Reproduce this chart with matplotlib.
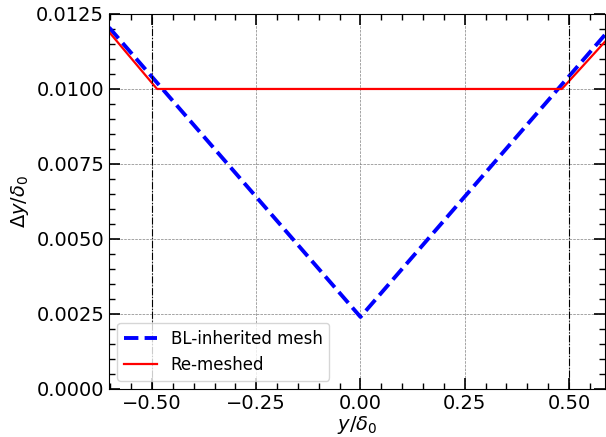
import numpy as np
import matplotlib.pyplot as plt
from matplotlib.ticker import MultipleLocator

# BL-inherited mesh (V shape)
bl_y = [-0.603, 0.0, 0.586]
bl_dy = [0.01205, 0.0024, 0.0118]

# re-meshed (capped at 0.01 in the core)
rm_y = [-0.603, -0.488, 0.483, 0.586]
rm_dy = [0.0119, 0.0100, 0.0100, 0.01157]

vlines = [-0.5, 0.5]

fig, ax = plt.subplots(figsize=(6.06, 4.37), dpi=100)
fig.subplots_adjust(left=0.18, right=0.998, top=0.968, bottom=0.11)

ax.plot(bl_y, bl_dy, color="blue", ls="--", lw=2.8, label="BL-inherited mesh")
ax.plot(rm_y, rm_dy, color="red", lw=1.6, label="Re-meshed")
for v in vlines:
    ax.axvline(v, color="k", ls="-.", lw=0.8)

ax.set_xlim(-0.603, 0.586)
ax.set_ylim(0, 0.0125)
ax.xaxis.set_major_locator(MultipleLocator(0.25))
ax.xaxis.set_minor_locator(MultipleLocator(0.05))
ax.yaxis.set_major_locator(MultipleLocator(0.0025))
ax.yaxis.set_minor_locator(MultipleLocator(0.0005))
ax.tick_params(which="both", direction="in", top=True, right=True, labelsize=14)
ax.tick_params(which="major", length=8, width=1.2)
ax.tick_params(which="minor", length=4, width=1)
ax.grid(True, which="major", ls="--", lw=0.5, color="gray")

ax.set_xlabel(r"$y/\delta_0$", fontsize=14, labelpad=1)
ax.set_ylabel(r"$\Delta y/\delta_0$", fontsize=14)
ax.legend(loc="lower left", fontsize=12)

fig.savefig("out.png")
